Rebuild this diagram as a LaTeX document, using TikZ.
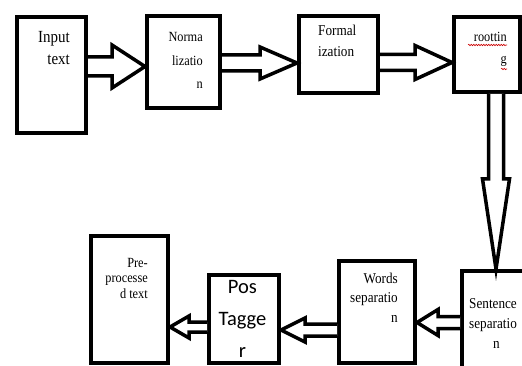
\documentclass[tikz,border=0pt]{standalone}
\usepackage{fontspec}
\setmainfont{Liberation Serif}[FakeStretch=0.88]
\newfontfamily\calibrifont{Carlito}
\usetikzlibrary{calc,decorations.pathmorphing}
\tikzset{
  box/.style={draw=black, line width=4pt, fill=white, rectangle, inner sep=0pt, anchor=north west},
  lbl/.style={inner sep=0pt, text=black},
  blockarrow/.style={draw=black, line width=3.5pt, line join=miter, fill=white},
  squiggle/.style={draw=red!80!black, line width=0.6pt, decorate, decoration={snake, amplitude=0.7pt, segment length=2.5pt}}
}
% horizontal block arrow: start anchor, end anchor, centre y, shaft half, head half, head length (signed)
\newcommand\hblock[6]{%
  \draw[blockarrow] let \p1=(#1), \p2=(#2) in
    (\x1,{-#3pt+#4pt}) -- ({\x2-(#6)*1pt},{-#3pt+#4pt}) -- ({\x2-(#6)*1pt},{-#3pt+#5pt})
    -- (\x2,{-#3pt}) -- ({\x2-(#6)*1pt},{-#3pt-#5pt}) -- ({\x2-(#6)*1pt},{-#3pt-#4pt})
    -- (\x1,{-#3pt-#4pt});}
% vertical (downward) block arrow: start anchor, end anchor, centre x, shaft half, head half, head length
\newcommand\vblock[6]{%
  \draw[blockarrow] let \p1=(#1), \p2=(#2) in
    ({#3pt-#4pt},\y1) -- ({#3pt-#4pt},{\y2+#6pt}) -- ({#3pt-#5pt},{\y2+#6pt})
    -- ({#3pt},\y2) -- ({#3pt+#5pt},{\y2+#6pt}) -- ({#3pt+#4pt},{\y2+#6pt})
    -- ({#3pt+#4pt},\y1);}
\begin{document}
\begin{tikzpicture}[x=1pt,y=-1pt]
\clip (0,0) rectangle (522,366);
\fill[white] (0,0) rectangle (522,366);
% boxes
\node[box, minimum width=69, minimum height=116] (in) at (15,15) {};
\node[box, minimum width=73, minimum height=92] (norm) at (145,14) {};
\node[box, minimum width=79, minimum height=77] (form) at (297,14) {};
\node[box, minimum width=66, minimum height=75] (root) at (452,15) {};
\node[box, minimum width=90, minimum height=120] (sent) at (460,269) {};
\node[box, minimum width=76, minimum height=102] (words) at (337,259) {};
\node[box, minimum width=70, minimum height=88] (pos) at (207,273) {};
\node[box, minimum width=77, minimum height=127] (pre) at (89,234) {};
% labels (anchored at the baseline of the last line)
\node[lbl, anchor=base east, align=right, font=\fontsize{17}{22}\selectfont] (inL) at (70,65) {Input\\text};
\node[lbl, anchor=base east, align=right, font=\fontsize{14}{23.5}\selectfont] (normL) at (203,89) {Norma\\lizatio\\n\hspace{3pt}};
\node[lbl, anchor=base west, align=left, font=\fontsize{15}{21}\selectfont] (formL) at (318,57) {Formal\\ization};
\node[lbl, anchor=base east, align=right, font=\fontsize{14}{22}\selectfont] (rootL) at (507,64) {roottin\\g};
\node[lbl, anchor=base east, align=right, font=\fontsize{14}{15.5}\selectfont] (preL) at (148,298) {Pre-\\processe\\d text};
\node[lbl, anchor=base, align=center, font=\calibrifont\fontsize{20.5}{32}\selectfont] (posL) at (242.5,357) {Pos\\Tagge\\r};
\node[lbl, anchor=base east, align=right, font=\fontsize{15}{19.5}\selectfont] (wordsL) at (398,322) {Words\\separatio\\n\hspace{16pt}};
\node[lbl, anchor=base west, align=left, font=\fontsize{15}{20}\selectfont] (sentL) at (469,348) {Sentence\\separatio\\\hspace{24pt}n};
% spell-check underlines
\draw[squiggle] (468,45) -- (507,45);
\draw[squiggle] (501,69) -- (507,69);
% block arrows
\hblock{in.east}{norm.west}{66.5}{9.5}{21.5}{33}
\hblock{norm.east}{form.west}{63}{8}{16}{37}
\hblock{form.east}{root.west}{62.5}{8}{17}{37}
\vblock{root.south}{sent.north}{496}{7.5}{13.5}{90}
\hblock{sent.west}{words.east}{322.5}{6}{13}{-21}
\hblock{words.west}{pos.east}{330}{6}{12}{-24}
\hblock{pos.west}{pre.east}{327}{5}{11}{-19}
\end{tikzpicture}
\end{document}
